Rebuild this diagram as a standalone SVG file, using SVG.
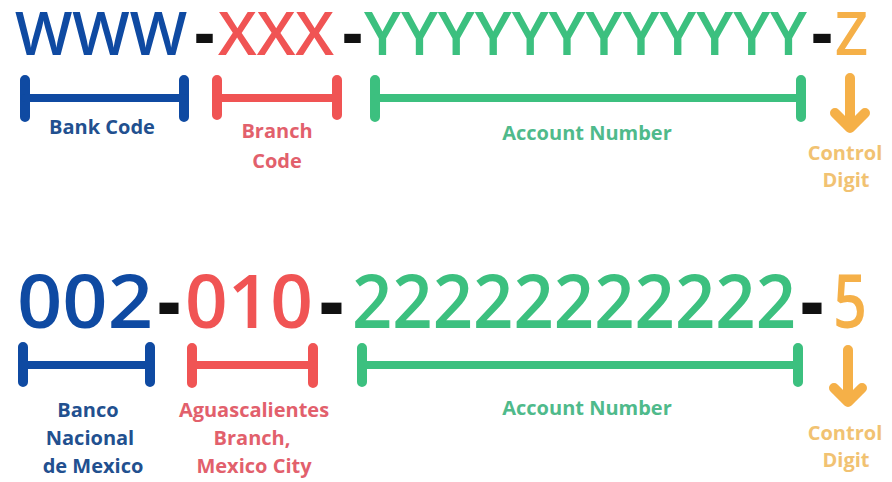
<svg xmlns="http://www.w3.org/2000/svg" width="892" height="482" viewBox="0 0 892 482">
<style>
.big{font-family:"Open Sans","Liberation Sans",sans-serif;font-weight:650}
.t{font-size:60px}
.b{font-size:74px}
.lab{font-family:"Open Sans","Liberation Sans",sans-serif;font-weight:700;font-size:20px;text-anchor:middle}
.blue{fill:#0f4aa2}.red{fill:#f05454}.green{fill:#3cc07f}.orange{fill:#f5b048}.dash{fill:#111;font-weight:800}
.lblue{fill:#22508f}.lred{fill:#e2606c}.lgreen{fill:#4fba8b}.lorange{fill:#f1c272}
.br{fill:none;stroke-linecap:round;stroke-linejoin:round}
.v{stroke-width:10}.h{stroke-width:8}
.sb{stroke:#0f4aa2}.sr{stroke:#f05454}.sg{stroke:#3cc07f}.so{stroke:#f5b048}
</style>
<rect width="892" height="482" fill="#ffffff"/>

<g id="top-bank">
<text class="big t blue" x="15" y="55" textLength="172" lengthAdjust="spacingAndGlyphs">WWW</text>
<text class="lab lblue" x="102" y="134">Bank Code</text>
</g>
<g id="top-dash1"><text class="big t dash" x="195" y="55" textLength="19" lengthAdjust="spacingAndGlyphs">-</text></g>
<g id="top-branch">
<text class="big t red" x="218" y="55" textLength="116" lengthAdjust="spacingAndGlyphs">XXX</text>
<text class="lab lred" x="277" y="138">Branch</text>
<text class="lab lred" x="277" y="168">Code</text>
</g>
<g id="top-dash2"><text class="big t dash" x="343" y="55" textLength="19" lengthAdjust="spacingAndGlyphs">-</text></g>
<g id="top-account">
<text class="big t green" x="364" y="55" textLength="443" lengthAdjust="spacingAndGlyphs">YYYYYYYYYYYY</text>
<text class="lab lgreen" x="587" y="140">Account Number</text>
</g>
<g id="top-dash3"><text class="big t dash" x="812" y="55" textLength="20" lengthAdjust="spacingAndGlyphs">-</text></g>
<g id="top-control">
<text class="big t orange" x="835" y="55" textLength="33" lengthAdjust="spacingAndGlyphs">Z</text>
<text class="lab lorange" x="845" y="160">Control</text>
<text class="lab lorange" x="846" y="187">Digit</text>
</g>

<g id="bot-bank">
<text class="big b blue" x="17" y="328" textLength="136" lengthAdjust="spacingAndGlyphs">002</text>
<text class="lab lblue" x="88" y="417">Banco</text>
<text class="lab lblue" x="90" y="445">Nacional</text>
<text class="lab lblue" x="93" y="473">de Mexico</text>
</g>
<g id="bot-dash1"><text class="big b dash" x="158" y="328" textLength="22" lengthAdjust="spacingAndGlyphs">-</text></g>
<g id="bot-branch">
<text class="big b red" x="185" y="328" textLength="128" lengthAdjust="spacingAndGlyphs">010</text>
<text class="lab lred" x="254" y="417">Aguascalientes</text>
<text class="lab lred" x="252" y="445">Branch,</text>
<text class="lab lred" x="254" y="473">Mexico City</text>
</g>
<g id="bot-dash2"><text class="big b dash" x="320" y="328" textLength="23" lengthAdjust="spacingAndGlyphs">-</text></g>
<g id="bot-account">
<text class="big b green" x="352" y="328" textLength="444" lengthAdjust="spacingAndGlyphs">22222222222</text>
<text class="lab lgreen" x="587" y="415">Account Number</text>
</g>
<g id="bot-dash3"><text class="big b dash" x="801" y="328" textLength="22" lengthAdjust="spacingAndGlyphs">-</text></g>
<g id="bot-control">
<text class="big b orange" x="833" y="328" textLength="34" lengthAdjust="spacingAndGlyphs">5</text>
<text class="lab lorange" x="845" y="440">Control</text>
<text class="lab lorange" x="846" y="467">Digit</text>
</g>

<g id="connectors">
<path class="br v sb" d="M25 80V117M184 80V117"/><path class="br h sb" d="M25 98H184"/>
<path class="br v sr" d="M217 80V115M337 80V115"/><path class="br h sr" d="M217 98H337"/>
<path class="br v sg" d="M375 80V117M801 80V117"/><path class="br h sg" d="M375 98H801"/>
<path class="br v so" d="M850 78V128M835 113L850 128L865 113"/>

<path class="br v sb" d="M23 347V382M150 347V382"/><path class="br h sb" d="M23 365H150"/>
<path class="br v sr" d="M192 348V383M313 348V383"/><path class="br h sr" d="M192 365H313"/>
<path class="br v sg" d="M362 348V382M798 348V382"/><path class="br h sg" d="M362 365H798"/>
<path class="br v so" d="M848 350V402M834 388L848 402L862 388"/>
</g>
</svg>
